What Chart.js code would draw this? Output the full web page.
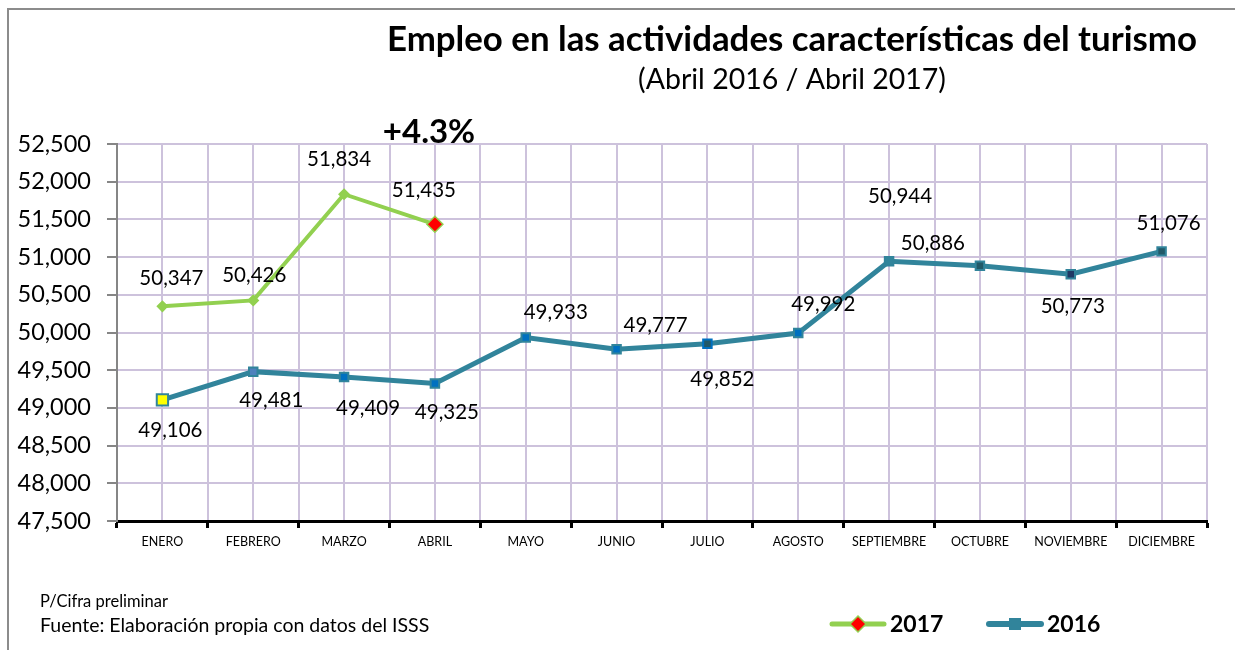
<!DOCTYPE html>
<html>
<head>
<meta charset="utf-8">
<script src="https://cdn.jsdelivr.net/npm/chart.js@4.4.0/dist/chart.umd.min.js"></script>
<style>
html, body { margin: 0; padding: 0; background: #fff; }
#wrap { position: relative; width: 1235px; height: 650px; overflow: hidden; }
#wrap canvas { position: absolute; left: 0; top: 0; }
#frame { position: absolute; left: 7px; top: 8px; width: 1240px; height: 660px; border-left: 2px solid #8c8c8c; border-top: 2px solid #8c8c8c; pointer-events: none; }
</style>
</head>
<body>
<div id="wrap">
  <canvas id="chart" width="1235" height="650"></canvas>
  <div id="frame"></div>
</div>
<script>
// datos del grafico
const meses = ["ENERO", "FEBRERO", "MARZO", "ABRIL", "MAYO", "JUNIO", "JULIO", "AGOSTO", "SEPTIEMBRE", "OCTUBRE", "NOVIEMBRE", "DICIEMBRE"];
const empleo2017 = [50347, 50426, 51834, 51435];
const empleo2016 = [49106, 49481, 49409, 49325, 49933, 49777, 49852, 49992, 50944, 50886, 50773, 51076];
const yMin = 47500;
const yMax = 52500;
const yPaso = 500;
const variacion = "+4.3%";

// donde va cada etiqueta respecto a su punto (dx, dy)
const offs2017 = [[9, -28], [1, -25], [-5, -35], [-11, -34]];
const offs2016 = [[8, 30], [18, 29], [24, 31], [12, 29], [30, -25], [39, -24], [15, 36], [25, -29], [11, -65], [-47, -22], [2, 32], [7, -28]];

const teal = "#31849b";
const verde = "#92d050";
const rejilla = "#cdc2dc";

const relleno2016 = ["#ffff00", "#4f81bd", "#0070c0", "#0070c0", "#0070c0", "#0070c0", "#215968", "#0070c0", "#31859c", "#215968", "#1f3864", "#215968"];
const borde2016 = [teal, teal, teal, teal, teal, teal, "#0070c0", teal, teal, teal, teal, teal];
const radio2016 = [8, 6, 6, 6, 6, 6, 6, 6, 6, 6, 6, 6];

const relleno2017 = [verde, verde, verde, "#ff0000"];
const radio2017 = [5, 5, 5, 8];

const fmt = v => v.toLocaleString("en-US");

const extras = {
  id: "extras",
  afterDatasetsDraw(chart) {
    const ctx = chart.ctx;
    ctx.save();
    ctx.fillStyle = "#000";
    ctx.textAlign = "center";
    ctx.textBaseline = "middle";
    ctx.font = "20.5px Lato";
    const pares = [[1, offs2016], [0, offs2017]];
    pares.forEach(([di, offs]) => {
      const meta = chart.getDatasetMeta(di);
      const vals = chart.data.datasets[di].data;
      meta.data.forEach((pt, i) => {
        ctx.fillText(fmt(vals[i]), pt.x + offs[i][0], pt.y + offs[i][1]);
      });
    });
    ctx.restore();
  },
  afterDraw(chart) {
    const ctx = chart.ctx;
    ctx.save();
    ctx.fillStyle = "#000";
    ctx.textBaseline = "middle";

    // titulo
    ctx.textAlign = "right";
    ctx.font = "bold 35px Lato";
    ctx.fillText("Empleo en las actividades características del turismo", 1197, 40, 810);
    ctx.textAlign = "center";
    ctx.font = "28.5px Lato";
    ctx.fillText("(Abril 2016 / Abril 2017)", 792, 80);

    // variacion
    ctx.font = "bold 33px Lato";
    ctx.fillText(variacion, 429, 132);

    // notas
    ctx.textAlign = "left";
    ctx.font = "16.5px Lato";
    ctx.fillText("P/Cifra preliminar", 40, 602);
    ctx.font = "19.5px Lato";
    ctx.fillText("Fuente: Elaboración propia con datos del ISSS", 40, 626);

    // leyenda
    const y = 624;
    const items = [
      { x: 832, color: verde, w: 5, txt: "2017", fill: "#ff0000", forma: "rombo" },
      { x: 989, color: teal, w: 6, txt: "2016", fill: teal, forma: "cuadro" }
    ];
    items.forEach(it => {
      ctx.strokeStyle = it.color;
      ctx.lineWidth = it.w;
      ctx.lineCap = "round";
      ctx.beginPath();
      ctx.moveTo(it.x, y);
      ctx.lineTo(it.x + 52, y);
      ctx.stroke();
      const cx = it.x + 26;
      ctx.fillStyle = it.fill;
      ctx.lineWidth = 1.5;
      if (it.forma === "rombo") {
        ctx.beginPath();
        ctx.moveTo(cx, y - 8);
        ctx.lineTo(cx + 8, y);
        ctx.lineTo(cx, y + 8);
        ctx.lineTo(cx - 8, y);
        ctx.closePath();
        ctx.fill();
        ctx.stroke();
      } else {
        ctx.fillRect(cx - 6, y - 6, 12, 12);
      }
      ctx.fillStyle = "#000";
      ctx.font = "bold 23px Lato";
      ctx.fillText(it.txt, it.x + 58, y + 1);
    });
    ctx.restore();
  }
};

new Chart(document.getElementById("chart"), {
  type: "line",
  data: {
    labels: meses,
    datasets: [
      {
        label: "2017",
        data: empleo2017,
        borderColor: verde,
        borderWidth: 4,
        pointStyle: "rectRot",
        pointRadius: radio2017,
        pointBackgroundColor: relleno2017,
        pointBorderColor: verde,
        pointBorderWidth: 1.5,
        tension: 0,
        xAxisID: "x",
        yAxisID: "y"
      },
      {
        label: "2016",
        data: empleo2016,
        borderColor: teal,
        borderWidth: 5,
        pointStyle: "rect",
        pointRadius: radio2016,
        pointBackgroundColor: relleno2016,
        pointBorderColor: borde2016,
        pointBorderWidth: 2,
        tension: 0,
        xAxisID: "x",
        yAxisID: "y"
      }
    ]
  },
  options: {
    responsive: false,
    animation: false,
    events: [],
    layout: { padding: { top: 144, right: 28, left: 0, bottom: 0 } },
    plugins: {
      legend: { display: false },
      tooltip: { enabled: false },
      title: { display: false }
    },
    scales: {
      rej: {
        type: "linear",
        position: "top",
        min: 0,
        max: 24,
        ticks: { display: false, stepSize: 1 },
        grid: { color: rejilla, lineWidth: 2, drawTicks: false },
        border: { display: false },
        afterFit: s => { s.height = 0; }
      },
      x: {
        type: "category",
        offset: true,
        grid: { offset: true, drawOnChartArea: false, tickLength: 7, tickColor: "#000", tickWidth: 3 },
        border: { color: "#000", width: 3 },
        ticks: { color: "#000", font: { family: "Lato", size: 12.5 }, padding: 6, maxRotation: 0, autoSkip: false },
        afterFit: s => { s.height = 129; }
      },
      y: {
        min: yMin,
        max: yMax,
        ticks: { stepSize: yPaso, color: "#000", font: { family: "Lato", size: 23.5 }, padding: 16, callback: v => fmt(v) },
        grid: { color: rejilla, lineWidth: 2, tickLength: 10, tickColor: "#868686", tickWidth: 2 },
        border: { color: "#868686", width: 2 },
        afterFit: s => { s.width = 117; }
      }
    }
  },
  plugins: [extras]
});
</script>
</body>
</html>
